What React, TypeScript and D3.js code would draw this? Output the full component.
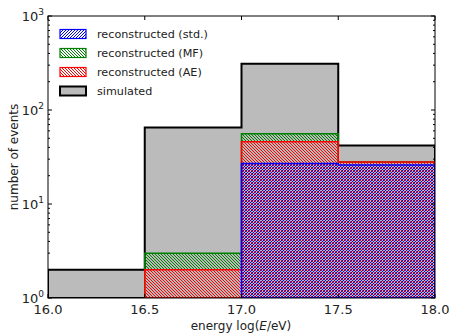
import React from "react";
import * as d3 from "d3";

// Histogram bins: log10 of energy in eV
const binEdges = [16.0, 16.5, 17.0, 17.5, 18.0];
const simulated = [2, 65, 310, 42];
const recMF = [0, 3, 56, 28];
const recAE = [0, 2, 46, 28];
const recStd = [0, 0, 27, 26];

const xTicks = [16.0, 16.5, 17.0, 17.5, 18.0];
const yDecades = [0, 1, 2, 3];

const legendItems = [
  { label: "reconstructed (std.)", key: "std" },
  { label: "reconstructed (MF)", key: "mf" },
  { label: "reconstructed (AE)", key: "ae" },
  { label: "simulated", key: "sim" },
];

const W = 449;
const H = 334;
const M = { left: 48, right: 14, top: 16, bottom: 36 };
const FONT = "DejaVu Sans, sans-serif";
const HATCH = 3; // hatch period in px

export default function App() {
  const x = d3.scaleLinear().domain([16, 18]).range([M.left, W - M.right]);
  const y = d3.scaleLog().domain([1, 1000]).range([H - M.bottom, M.top]);
  const x0 = M.left, x1 = W - M.right, y0 = M.top, y1 = H - M.bottom;

  // Step outline of a histogram, closed along the baseline
  const stepPath = (counts: number[]) => {
    const pts: [number, number][] = [];
    let started = false;
    counts.forEach((c, i) => {
      if (c <= 0) return;
      const xa = x(binEdges[i]);
      const xb = x(binEdges[i + 1]);
      const yy = y(c);
      if (!started) {
        pts.push([xa, y1]);
        started = true;
      }
      pts.push([xa, yy], [xb, yy]);
    });
    if (!started) return "";
    const last = pts[pts.length - 1];
    pts.push([last[0], y1]);
    return d3.line()(pts) + "Z";
  };

  // Pixel-stepped diagonal hatch: "f" = forward slash, "b" = backslash
  const hatch = (id: string, color: string, dir: "f" | "b") => (
    <pattern id={id} patternUnits="userSpaceOnUse" x={0} y={0} width={HATCH} height={HATCH}>
      {d3.range(HATCH).map((i) => (
        <rect
          key={i}
          x={i}
          y={dir === "f" ? HATCH - 1 - i : i}
          width={1}
          height={1}
          fill={color}
          shapeRendering="crispEdges"
        />
      ))}
    </pattern>
  );

  const minorTicks: number[] = [];
  for (let d = 0; d < 3; d++) for (let k = 2; k <= 9; k++) minorTicks.push(k * Math.pow(10, d));

  const legendStyle = (key: string) => {
    if (key === "std") return { fill: "url(#hStd)", stroke: "#0000ff", sw: 1.2 };
    if (key === "mf") return { fill: "url(#hMF)", stroke: "#008000", sw: 1.2 };
    if (key === "ae") return { fill: "url(#hAE)", stroke: "#ff0000", sw: 1.2 };
    return { fill: "#bbbbbb", stroke: "#000000", sw: 2 };
  };

  return (
    <svg width={W} height={H} style={{ position: "absolute", left: 0, top: 0 }} fontFamily={FONT}>
      <defs>
        {hatch("hStd", "#0000ff", "f")}
        {hatch("hMF", "#008000", "b")}
        {hatch("hAE", "#ff0000", "b")}
        <clipPath id="plotClip">
          <rect x={x0} y={y0} width={x1 - x0} height={y1 - y0} />
        </clipPath>
      </defs>
      <rect width={W} height={H} fill="#ffffff" />

      <g clipPath="url(#plotClip)">
        <path d={stepPath(simulated)} fill="#bbbbbb" stroke="#000000" strokeWidth={2} />
        <path d={stepPath(recMF)} fill="url(#hMF)" stroke="#008000" strokeWidth={1.5} />
        <path d={stepPath(recAE)} fill="url(#hAE)" stroke="#ff0000" strokeWidth={1.5} />
        <path d={stepPath(recStd)} fill="url(#hStd)" stroke="#0000ff" strokeWidth={1.5} />
      </g>

      {/* axes frame */}
      <rect x={x0} y={y0} width={x1 - x0} height={y1 - y0} fill="none" stroke="#000" strokeWidth={1} />

      {/* x ticks, inward on bottom and top */}
      {xTicks.map((t) => (
        <g key={"xt" + t}>
          <line x1={x(t)} x2={x(t)} y1={y1} y2={y1 - 4} stroke="#000" />
          <line x1={x(t)} x2={x(t)} y1={y0} y2={y0 + 4} stroke="#000" />
          <text x={x(t)} y={y1 + 16} fontSize={13} textAnchor="middle" fill="#222">
            {t.toFixed(1)}
          </text>
        </g>
      ))}

      {/* y ticks */}
      {yDecades.map((d) => (
        <g key={"yt" + d}>
          <line x1={x0} x2={x0 + 4} y1={y(Math.pow(10, d))} y2={y(Math.pow(10, d))} stroke="#000" />
          <line x1={x1} x2={x1 - 4} y1={y(Math.pow(10, d))} y2={y(Math.pow(10, d))} stroke="#000" />
          <text x={x0 - 4} y={y(Math.pow(10, d)) + 5} fontSize={13} textAnchor="end" fill="#222">
            10<tspan dy={-6} fontSize={9}>{d}</tspan>
          </text>
        </g>
      ))}
      {minorTicks.map((v) => (
        <g key={"ym" + v}>
          <line x1={x0} x2={x0 + 2} y1={y(v)} y2={y(v)} stroke="#000" />
          <line x1={x1} x2={x1 - 2} y1={y(v)} y2={y(v)} stroke="#000" />
        </g>
      ))}

      {/* axis labels */}
      <text x={241} y={330} fontSize={12} textAnchor="middle" fill="#222">
        energy log(<tspan fontStyle="italic">E</tspan>/eV)
      </text>
      <text
        transform={`translate(18,${(y0 + y1) / 2}) rotate(-90)`}
        fontSize={12}
        textAnchor="middle"
        fill="#222"
      >
        number of events
      </text>

      {/* legend */}
      {legendItems.map((it, i) => {
        const st = legendStyle(it.key);
        const cy = 34 + i * 19;
        return (
          <g key={it.key}>
            <rect x={60} y={cy - 4.5} width={26} height={9} fill={st.fill} stroke={st.stroke} strokeWidth={st.sw} />
            <text x={97} y={cy + 4} fontSize={11.2} fill="#222">
              {it.label}
            </text>
          </g>
        );
      })}
    </svg>
  );
}
